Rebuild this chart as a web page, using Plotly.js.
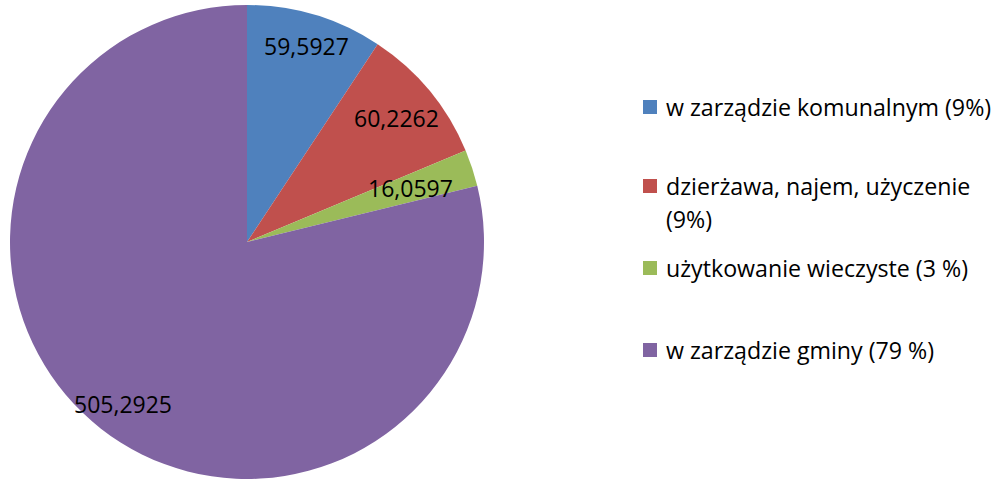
<!DOCTYPE html>
<html><head><meta charset="utf-8">
<script src="https://cdn.plot.ly/plotly-3.0.1.min.js"></script>
<style>html,body{margin:0;padding:0;background:#fff}</style>
</head><body>
<div id="chart" style="width:997px;height:479px"></div>
<script>
const categories = ["w zarządzie komunalnym (9%)", "dzierżawa, najem, użyczenie<br>(9%)", "użytkowanie wieczyste (3 %)", "w zarządzie gminy (79 %)"];
const values = [59.5927, 60.2262, 16.0597, 505.2925];
const colors = ["#4F81BD", "#C0504D", "#9BBB59", "#8064A2"];

const W = 997, H = 479;
const cx = 247, cy = 242, R = 237;
const FONT = "Open Sans, sans-serif";

// label placement (radial fraction of radius) per slice
const labelRadius = [0.865, 0.82, 0.727, 0.86];
const labelAngleShift = [0, 0, 0, -0.6];

const total = values.reduce((a, b) => a + b, 0);
const annotations = [];
const shapes = [];
let cum = 0;
values.forEach((v, i) => {
  const mid = (cum + v / 2) / total * 360 + labelAngleShift[i];
  cum += v;
  const th = mid * Math.PI / 180;
  const px = cx + labelRadius[i] * R * Math.sin(th);
  const py = cy - labelRadius[i] * R * Math.cos(th);
  annotations.push({
    xref: "paper", yref: "paper", x: px / W, y: 1 - py / H,
    xanchor: "center", yanchor: "middle", showarrow: false,
    text: String(v).replace(".", ","),
    font: {family: FONT, size: 23, color: "#000"}
  });
});

// legend
const legendY = [107, 186, 268, 350];
const lineGap = 33;
categories.forEach((c, i) => {
  const y = legendY[i];
  shapes.push({
    type: "rect", xref: "paper", yref: "paper",
    x0: 643 / W, x1: 657 / W, y0: 1 - (y - 7) / H, y1: 1 - (y + 7) / H,
    fillcolor: colors[i], line: {width: 0}
  });
  c.split("<br>").forEach((line, k) => {
    annotations.push({
      xref: "paper", yref: "paper", x: 664 / W, y: 1 - (y + k * lineGap) / H,
      xanchor: "left", yanchor: "middle", showarrow: false,
      text: line, font: {family: FONT, size: 23.2, color: "#000"}
    });
  });
});

const data = [{
  type: "pie",
  labels: categories,
  values: values,
  marker: {colors: colors, line: {width: 0}},
  sort: false,
  direction: "clockwise",
  rotation: 0,
  textinfo: "none",
  hoverinfo: "label+value",
  showlegend: false,
  domain: {x: [(cx - R) / W, (cx + R) / W], y: [0, (2 * R) / H]}
}];

const layout = {
  width: W, height: H,
  margin: {l: 0, r: 0, t: 0, b: 0},
  paper_bgcolor: "#fff",
  plot_bgcolor: "#fff",
  showlegend: false,
  annotations: annotations,
  shapes: shapes
};

Plotly.newPlot("chart", data, layout, {displayModeBar: false, staticPlot: true});
</script>
</body></html>
